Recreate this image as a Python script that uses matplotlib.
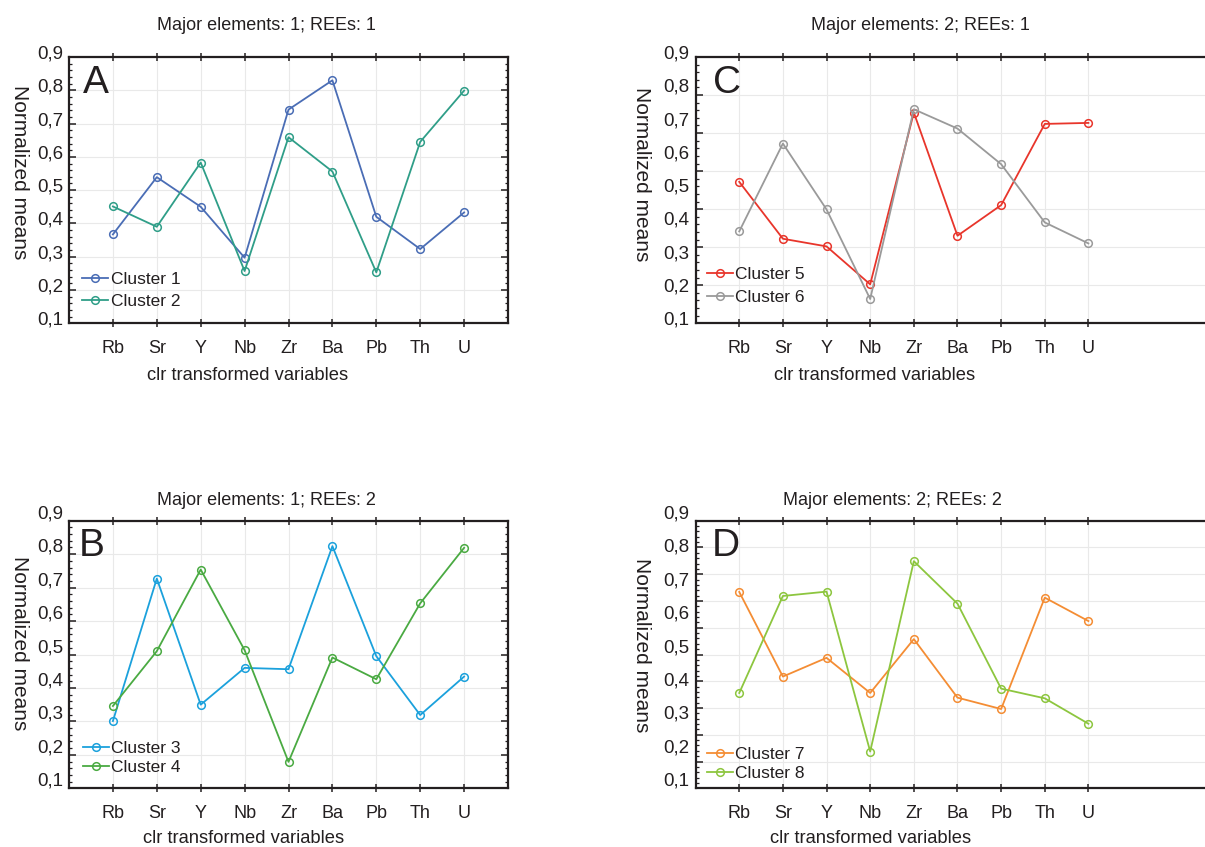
import numpy as np
import matplotlib
matplotlib.use("Agg")
import matplotlib.pyplot as plt
import matplotlib.transforms as mtransforms
from matplotlib.ticker import FixedLocator, AutoMinorLocator

plt.rcParams['font.family'] = ['Liberation Sans', 'DejaVu Sans']

# ---- data -------------------------------------------------------------
elements = ["Rb", "Sr", "Y", "Nb", "Zr", "Ba", "Pb", "Th", "U"]
y_tick_values = [0.1, 0.2, 0.3, 0.4, 0.5, 0.6, 0.7, 0.8, 0.9]
y_tick_labels = ["0,1", "0,2", "0,3", "0,4", "0,5", "0,6", "0,7", "0,8", "0,9"]

cluster1 = [0.367, 0.539, 0.450, 0.297, 0.742, 0.830, 0.420, 0.323, 0.433]
cluster2 = [0.451, 0.390, 0.583, 0.257, 0.659, 0.556, 0.253, 0.645, 0.799]
cluster3 = [0.301, 0.727, 0.350, 0.460, 0.456, 0.824, 0.495, 0.319, 0.434]
cluster4 = [0.346, 0.510, 0.754, 0.513, 0.179, 0.491, 0.426, 0.653, 0.819]
cluster5 = [0.525, 0.354, 0.331, 0.217, 0.733, 0.363, 0.455, 0.699, 0.702]
cluster6 = [0.376, 0.640, 0.442, 0.173, 0.743, 0.685, 0.578, 0.403, 0.340]
cluster7 = [0.687, 0.434, 0.490, 0.385, 0.546, 0.371, 0.337, 0.670, 0.600]
cluster8 = [0.385, 0.675, 0.688, 0.210, 0.779, 0.652, 0.398, 0.369, 0.293]

titles = ["Major elements: 1; REEs: 1", "Major elements: 2; REEs: 1",
          "Major elements: 1; REEs: 2", "Major elements: 2; REEs: 2"]
letters = ["A", "C", "B", "D"]
series_names = [["Cluster 1", "Cluster 2"], ["Cluster 5", "Cluster 6"],
                ["Cluster 3", "Cluster 4"], ["Cluster 7", "Cluster 8"]]
series_values = [[cluster1, cluster2], [cluster5, cluster6],
                 [cluster3, cluster4], [cluster7, cluster8]]
series_colors = [["#4a6db5", "#2f9e88"], ["#e8352b", "#9a9a9a"],
                 ["#1ba1dc", "#4aaa42"], ["#f48d34", "#8dc63f"]]

# ---- layout (pixels) --------------------------------------------------
W, H = 1205, 847
fig = plt.figure(figsize=(W / 100, H / 100), dpi=100)

layout = [
    dict(box=(69, 57, 508, 323.3), xr=9.0, ngrid=8, lift=3,
         title=(266.7, 25), xlab=(247.8, 375), ylab=(19, 172),
         letter=(83, 93), leg=(82, 271.5), lsp=0.4),
    dict(box=(695.6, 57, 1215, 323.3), xr=10.9, ngrid=7, lift=3,
         title=(920.7, 25), xlab=(874.5, 375), ylab=(641.7, 174),
         letter=(713, 93), leg=(706.5, 266.5), lsp=0.46),
    dict(box=(69, 520.7, 508, 788.3), xr=9.0, ngrid=8, lift=7,
         title=(266.7, 500), xlab=(243.8, 838), ylab=(19, 643),
         letter=(79, 556), leg=(82.5, 741), lsp=0.23),
    dict(box=(695.6, 520.7, 1215, 788.3), xr=10.9, ngrid=10, lift=7,
         title=(892.8, 500), xlab=(870.8, 838), ylab=(641.7, 645),
         letter=(712, 556), leg=(706.5, 746.5), lsp=0.23),
]

spine_color = "#231f20"
grid_color = "#e9e9e9"
x = np.arange(len(elements))

for i, lay in enumerate(layout):
    l, t, r, b = lay["box"]
    ax = fig.add_axes([l / W, 1 - b / H, (r - l) / W, (b - t) / H])
    ax.set_xlim(-1, lay["xr"])
    ax.set_ylim(0.1, 0.9)

    # plotted series
    for vals, name, col in zip(series_values[i], series_names[i], series_colors[i]):
        ax.plot(x, vals, color=col, lw=1.3, marker="o", ms=5.5,
                mfc="none", mec=col, mew=1.1, label=name, zorder=3)

    # grid and ticks
    grid_pos = np.linspace(0.1, 0.9, lay["ngrid"] + 1)
    ax.yaxis.set_major_locator(FixedLocator(grid_pos))
    ax.yaxis.set_minor_locator(AutoMinorLocator(5))
    ax.set_xticks(x)
    ax.set_xticklabels(elements, fontsize=13)
    ax.grid(True, which="major", color=grid_color, lw=0.8, zorder=0)
    ax.tick_params(axis="y", which="major", direction="in", length=5,
                   width=1.1, left=True, right=True, labelleft=False,
                   color=spine_color)
    ax.tick_params(axis="y", which="minor", direction="in", length=2.5,
                   width=0.9, left=True, right=True, color=spine_color)
    ax.tick_params(axis="x", which="major", direction="inout", length=6,
                   width=1.1, top=True, bottom=True, pad=9,
                   color=spine_color, labelcolor="#231f20")
    for s in ax.spines.values():
        s.set_color(spine_color)
        s.set_linewidth(1.6)

    # y labels written next to the left spine
    lift = mtransforms.ScaledTranslation(-6 / 100, lay["lift"] / 100,
                                         fig.dpi_scale_trans)
    trans = mtransforms.blended_transform_factory(ax.transAxes, ax.transData) + lift
    for v, txt in zip(y_tick_values, y_tick_labels):
        ax.text(0, v, txt, transform=trans, ha="right", va="center",
                fontsize=13.5, color="#231f20", clip_on=False)

    # legend
    lx, ly = lay["leg"]
    leg = ax.legend(loc="upper left", bbox_to_anchor=(lx / W, 1 - ly / H),
                    bbox_transform=fig.transFigure, frameon=False,
                    fontsize=12.5, handlelength=1.5, handletextpad=0.15,
                    labelspacing=lay["lsp"], borderpad=0, borderaxespad=0)
    for txt in leg.get_texts():
        txt.set_color("#231f20")

    # titles, axis names, panel letter
    tx, ty = lay["title"]
    fig.text(tx / W, 1 - ty / H, titles[i], ha="center", va="center",
             fontsize=13, color="#231f20")
    xx, xy = lay["xlab"]
    fig.text(xx / W, 1 - xy / H, "clr transformed variables", ha="center",
             va="center", fontsize=13.2, color="#231f20")
    yx, yy = lay["ylab"]
    fig.text(yx / W, 1 - yy / H, "Normalized means", ha="center",
             va="center", rotation=-90, fontsize=15, color="#231f20")
    px, py = lay["letter"]
    fig.text(px / W, 1 - py / H, letters[i], ha="left", va="baseline",
             fontsize=28, color="#231f20")

fig.savefig("out.png", dpi=100)
